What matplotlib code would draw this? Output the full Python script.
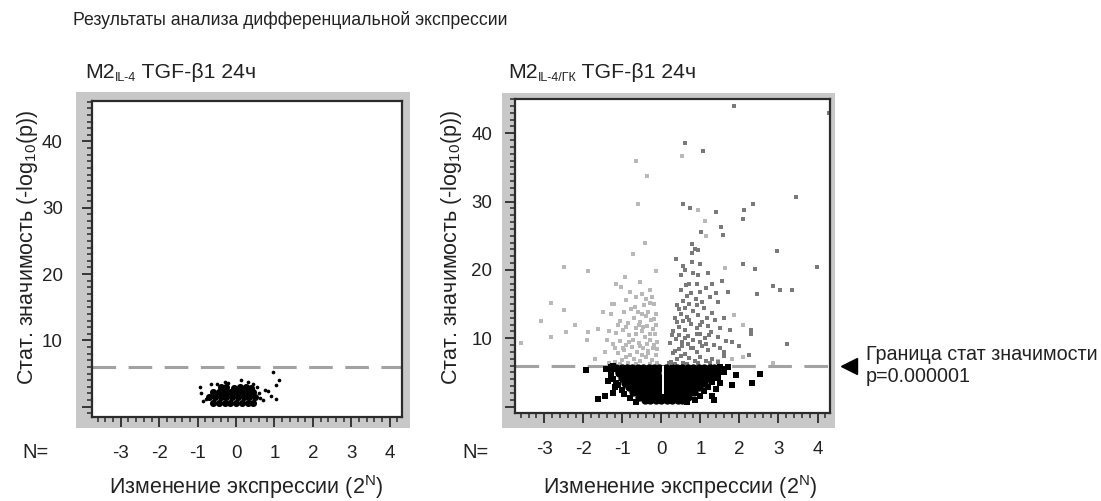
import matplotlib
matplotlib.use("Agg")
import matplotlib.pyplot as plt
from matplotlib.patches import Rectangle
from matplotlib.ticker import MultipleLocator, FixedLocator

plt.rcParams['font.family'] = ['Liberation Sans', 'DejaVu Sans']
plt.rcParams['axes.unicode_minus'] = False
plt.rcParams['mathtext.default'] = 'regular'
plt.rcParams['lines.scale_dashes'] = False

# ---------------- data ----------------
title = "Результаты анализа дифференциальной экспрессии"
xlabel = "Изменение экспрессии (2$^{N}$)"
ylabel = "Стат. значимость (-log$_{10}$(p))"
xticks = [-3, -2, -1, 0, 1, 2, 3, 4]
xticklabels = ["-3", "-2", "-1", "0", "1", "2", "3", "4"]
yticks = [0, 10, 20, 30, 40]
yticklabels = ["", "10", "20", "30", "40"]
threshold = 6.0
note_lines = ["Граница стат значимости", "p=0.000001"]

# Left panel (M2 IL-4): dense core + scattered points (all non-significant)
left_core_x = [-0.6, -0.45, -0.3, -0.15, 0.0, 0.15, 0.3, 0.45,
               -0.7, -0.55, -0.4, -0.25, -0.1, 0.05, 0.2, 0.35, 0.5,
               -0.6, -0.45, -0.3, -0.15, 0.0, 0.15, 0.3, 0.45,
               -0.4, -0.25, -0.05, 0.1, 0.25, 0.4]
left_core_y = [0.6, 0.6, 0.6, 0.6, 0.6, 0.6, 0.6, 0.6,
               1.4, 1.4, 1.4, 1.4, 1.4, 1.4, 1.4, 1.4, 1.4,
               2.2, 2.2, 2.2, 2.2, 2.2, 2.2, 2.2, 2.2,
               2.9, 3.0, 2.8, 3.0, 2.9, 2.8]
left_pts_x = [-0.95, -0.78, -0.85, -0.66, -0.3, 0.14, 0.3, 0.55, 0.6, 0.75,
              0.84, 0.96, 1.12, 1.05, 1.03, 0.7, -0.5, 0.45, -0.9, -0.2, 0.62, 0.9]
left_pts_y = [3.0, 1.2, 0.9, 3.5, 3.8, 4.0, 3.8, 3.0, 2.0, 2.5,
              2.4, 5.3, 4.1, 3.2, 1.2, 1.0, 3.4, 3.5, 2.0, 3.6, 1.3, 1.6]

# Right panel (M2 IL-4/ГК): dense non-significant core, by rows
right_core_x = [-1.16, -1.02, -0.88, -0.74, -0.6, -0.46, -0.32, -0.18, -0.05, 0.12, 0.26, 0.4, 0.54, 0.68, 0.82, 0.96, 1.1, 1.24, 1.36,
                -1.08, -0.94, -0.8, -0.66, -0.52, -0.38, -0.24, -0.1, 0.14, 0.28, 0.42, 0.56, 0.7, 0.84, 0.98, 1.12, 1.26,
                -1.0, -0.86, -0.72, -0.58, -0.44, -0.3, -0.16, -0.03, 0.13, 0.27, 0.41, 0.55, 0.69, 0.83, 0.97, 1.1, 1.2,
                -0.92, -0.78, -0.64, -0.5, -0.36, -0.22, -0.08, 0.14, 0.28, 0.42, 0.56, 0.7, 0.84, 0.98, 1.08,
                -0.84, -0.7, -0.56, -0.42, -0.28, -0.14, 0.0, 0.14, 0.28, 0.42, 0.56, 0.7, 0.84, 0.96,
                -0.72, -0.58, -0.44, -0.3, -0.16, -0.02, 0.12, 0.26, 0.4, 0.54, 0.68, 0.84,
                -0.58, -0.44, -0.3, -0.16, -0.02, 0.12, 0.26, 0.4, 0.54, 0.68,
                -0.42, -0.28, -0.14, 0.0, 0.14, 0.28, 0.42, 0.52]
right_core_y = ([5.6] * 19 + [4.9] * 17 + [4.2] * 17 + [3.5] * 15 +
                [2.8] * 14 + [2.1] * 12 + [1.4] * 10 + [0.9] * 8)
right_black_x = [-1.93, -1.42, -1.38, -1.3, -1.2, -1.16, -1.63, -1.45, 1.9, 1.82,
                 2.33, 2.52, 1.6, 1.3, 1.39, 1.5, 1.45, 1.55, -1.3, 1.7, -1.25, 1.35,
                 -1.3, -1.25, -1.1, -1.0, -0.95, -0.8, -0.65, 1.45, 1.35, 1.3, 1.2,
                 1.1, 1.0, 0.85, 0.65, 1.5, -1.25]
right_black_y = [5.4, 5.5, 3.8, 4.5, 2.8, 3.5, 1.1, 1.5, 4.6, 3.2,
                 3.5, 4.8, 5.0, 1.6, 2.6, 3.5, 4.2, 5.5, 5.8, 5.8, 2.0, 0.9,
                 5.2, 4.0, 3.2, 2.4, 1.8, 1.2, 0.7, 5.0, 4.4, 3.6, 2.9,
                 2.2, 1.6, 1.0, 0.6, 5.8, 5.9]
gap_x = [0.04, 0.04]
gap_y = [2.0, 5.8]

# significant, down-regulated (light grey)
down_x = [-1.2, -1.0, -0.85, -0.7, -0.55, -0.4, -0.25, -0.15,
          -1.1, -0.95, -0.8, -0.62, -0.48, -0.33, -0.2, -0.1,
          -1.25, -1.05, -0.9, -0.72, -0.58, -0.42, -0.28, -0.16,
          -1.15, -0.98, -0.82, -0.66, -0.5, -0.36, -0.22,
          -1.05, -0.86, -0.7, -0.55, -0.4, -0.27,
          -1.3, -0.95, -0.78, -0.6, -0.45, -0.3,
          -1.22, -0.9, -0.66, -0.5, -0.2,
          -1.5, -1.26, -1.62, -1.88, -1.9, -2.21, -2.45, -2.84, -3.6, -3.09,
          -2.5, -2.84, -2.49, -1.89, -0.92, -1.16, -1.03, -0.3, -0.13, -0.73,
          -0.41, -0.6, -0.36, -0.64, 0.52, 1.12, 1.15, 0.93, 1.62, 1.87,
          2.1, 1.8, 2.1, 2.87, -1.7, -1.45, -1.35, 1.45,
          -0.12, -0.3, -0.5, -0.65, -0.9, -1.05, -0.35, -0.22, -0.55, -0.75,
          -0.98, -0.12, -0.36, -0.64, -0.82, -0.3, -0.46, -0.15, -0.58, -0.9,
          -0.2, -0.35, -0.5, -0.68, -0.15, -0.25, -0.4, -1.12, -1.35, -1.2,
          -1.4, -0.8, -0.55]
down_y = [6.5, 6.8, 6.4, 7.0, 6.6, 7.2, 6.8, 7.5,
          7.8, 8.3, 7.6, 8.0, 8.6, 8.1, 9.0, 8.4,
          9.2, 9.6, 9.0, 9.8, 9.3, 10.2, 9.7, 10.6,
          10.8, 11.2, 10.5, 11.5, 11.0, 11.8, 11.3,
          12.5, 12.2, 12.9, 12.4, 13.2, 12.7,
          13.5, 13.9, 14.3, 13.8, 14.8, 15.2,
          15.0, 15.6, 16.0, 16.5, 15.0,
          13.9, 15.0, 11.3, 10.9, 9.7, 12.0, 10.9, 10.1, 9.3, 12.5,
          14.1, 15.2, 20.4, 19.8, 19.0, 17.9, 17.5, 17.0, 19.8, 22.3,
          24.0, 29.6, 33.8, 35.9, 36.6, 27.2, 24.9, 28.7, 20.3, 13.4,
          11.9, 6.9, 7.2, 6.4, 7.0, 8.0, 6.3, 6.6,
          6.3, 6.2, 7.6, 6.2, 7.2, 6.2, 7.9, 8.5, 8.9, 8.7,
          8.6, 9.5, 9.2, 10.6, 9.5, 10.6, 11.6, 11.9, 12.0, 11.7,
          12.8, 13.8, 13.6, 14.6, 13.6, 16.0, 15.8, 12.0, 11.0, 8.5,
          9.8, 16.8, 18.2]

# significant, up-regulated (dark grey)
up_x = [0.25, 0.4, 0.55, 0.7, 0.85, 1.0, 1.15, 1.3, 1.45, 1.6,
        0.3, 0.45, 0.6, 0.75, 0.9, 1.05, 1.2, 1.35, 1.5,
        0.22, 0.38, 0.52, 0.68, 0.82, 0.98, 1.12, 1.28, 1.45,
        0.3, 0.45, 0.6, 0.75, 0.9, 1.05, 1.2, 1.38,
        0.35, 0.5, 0.65, 0.8, 0.95, 1.1, 1.3,
        0.4, 0.55, 0.7, 0.88, 1.05, 1.25, 1.45,
        0.5, 0.62, 0.75, 0.9, 1.3, 1.55, 1.7, 0.5, 0.7, 0.8,
        0.37, 0.79, 0.79, 0.85, 0.94, 0.79, 0.55, 1.0,
        1.85, 4.3, 0.6, 1.07, 0.56, 0.73, 1.39, 2.12, 2.36, 3.44,
        2.08, 1.53, 1.01, 1.57, 2.96, 2.4, 3.98, 2.45, 2.87, 3.04,
        3.34, 2.3, 2.3, 3.22, 2.1,
        0.2, 0.35, 0.5, 0.65, 0.95, 1.25, 0.36, 0.52, 0.68, 0.82,
        1.0, 1.15, 1.6, 1.65, 0.28, 0.45, 0.6, 0.9, 1.22, 0.4,
        0.55, 0.72, 1.0, 1.5, 0.45, 0.6, 0.9, 1.18, 1.6, 0.65,
        1.0, 1.15, 1.4, 0.6, 0.95, 1.2, 1.8, 1.75, 2.0, 2.25]
up_y = [6.5, 6.9, 6.4, 7.1, 6.7, 7.3, 6.6, 7.0, 6.5, 7.4,
        7.8, 8.4, 7.7, 8.6, 8.0, 8.8, 8.2, 9.0, 8.5,
        9.3, 9.9, 9.4, 10.3, 9.7, 10.6, 10.0, 10.9, 10.2,
        11.1, 11.7, 11.2, 12.1, 11.5, 12.4, 11.8, 12.6,
        13.0, 13.6, 13.1, 14.0, 13.4, 14.4, 13.7,
        14.9, 15.5, 15.0, 15.8, 15.3, 16.0, 15.3,
        17.0, 17.8, 16.6, 17.9, 18.0, 18.4, 16.7, 19.2, 18.0, 19.6,
        21.6, 21.2, 22.4, 23.0, 22.9, 23.8, 20.5, 20.8,
        44.0, 43.0, 38.5, 37.4, 29.6, 29.0, 28.5, 28.8, 29.6, 30.6,
        27.5, 26.2, 25.6, 25.1, 22.8, 20.1, 20.4, 16.5, 17.6, 17.1,
        17.0, 10.6, 11.2, 9.2, 20.9,
        6.3, 6.2, 7.4, 6.2, 6.3, 6.3, 8.1, 8.8, 9.1, 8.5,
        9.4, 9.2, 8.0, 9.6, 10.5, 10.4, 10.0, 10.6, 10.4, 12.3,
        12.5, 12.6, 12.0, 11.5, 14.2, 14.4, 14.8, 13.0, 13.0, 16.2,
        16.8, 17.4, 16.6, 20.0, 19.2, 19.5, 9.5, 11.2, 8.8, 7.5]

# ---------------- figure ----------------
W, H = 1101, 501
fig = plt.figure(figsize=(W / 100, H / 100), dpi=100)
fig.patch.set_facecolor('white')


def fx(px):
    return px / W


def fy(py):
    return 1 - py / H


def make_axes(l, t, r, b, gl, gt, gr, gb):
    fig.patches.append(Rectangle((fx(gl), fy(gb)), (gr - gl) / W, (gb - gt) / H,
                                 transform=fig.transFigure, facecolor='#c8c8c8',
                                 edgecolor='none', zorder=-5))
    ax = fig.add_axes([fx(l), fy(b), (r - l) / W, (b - t) / H])
    ax.set_facecolor('white')
    for s in ax.spines.values():
        s.set_color('#2b2b2b')
        s.set_linewidth(1.6)
    return ax


ax1 = make_axes(92, 101, 402, 417, 76, 92, 410, 428)
ax2 = make_axes(515, 99, 830, 413, 502, 93, 835, 428)

TXT = '#222222'
FS_TICK = 13.5
FS_LAB = 15.5


def style(ax, ylim, ypad):
    ax.set_xlim(-3.75, 4.32)
    ax.set_ylim(*ylim)
    ax.xaxis.set_major_locator(FixedLocator(xticks))
    ax.set_xticklabels(xticklabels)
    ax.xaxis.set_minor_locator(MultipleLocator(0.2))
    ax.yaxis.set_major_locator(FixedLocator(yticks))
    ax.set_yticklabels(yticklabels)
    ax.yaxis.set_minor_locator(MultipleLocator(1))
    ax.tick_params(which='both', direction='out', color='#2b2b2b', top=False, right=False)
    ax.tick_params(which='major', length=7, width=1.3, labelsize=FS_TICK, labelcolor=TXT)
    ax.tick_params(which='minor', length=3.5, width=1.1)
    ax.tick_params(axis='x', which='major', pad=13)
    ax.tick_params(axis='y', which='major', pad=ypad)
    ax.axhline(threshold, color='#a2a2a2', lw=2.2, dashes=(17, 9), zorder=1)


style(ax1, (-1.55, 46.1), 14)
style(ax2, (-0.95, 45.0), 9.5)

# left panel points
ax1.scatter(left_core_x, left_core_y, s=26, c='black', linewidths=0, zorder=3)
ax1.scatter(left_pts_x, left_pts_y, s=7, c='black', linewidths=0, zorder=3)

# right panel points
ax2.scatter(down_x, down_y, s=12, c='#b8b8b8', marker='s', linewidths=0, zorder=2)
ax2.scatter(up_x, up_y, s=12, c='#7a7a7a', marker='s', linewidths=0, zorder=2)
ax2.scatter(right_core_x, right_core_y, s=36, c='black', linewidths=0, zorder=3)
ax2.scatter(right_black_x, right_black_y, s=13, c='black', marker='s', linewidths=0, zorder=3)
ax2.plot(gap_x, gap_y, color='white', lw=1.4, zorder=4)

# threshold annotation
ax2.plot([(848.7 - 515) / 315], [threshold], marker='<', ms=11, color='black',
         transform=ax2.get_yaxis_transform(), clip_on=False)
fig.text(fx(866), fy(354), note_lines[0], fontsize=14.2, color=TXT, ha='left', va='center')
fig.text(fx(866), fy(377), note_lines[1], fontsize=14.2, color=TXT, ha='left', va='center')

# titles & labels
fig.text(fx(73), fy(20), title, fontsize=12.7, color=TXT, ha='left', va='center')

renderer = fig.canvas.get_renderer()


def rich(x_px, base_px, pieces):
    x = x_px
    for txt, size, dy in pieces:
        t = fig.text(fx(x), fy(base_px + dy), txt, fontsize=size, color=TXT,
                     ha='left', va='baseline')
        bb = t.get_window_extent(renderer)
        x += bb.width


rich(85, 78, [("M2", 15.3, 0), ("IL-4", 9, 3), (" TGF-β1 24ч", 15.3, 0)])
rich(508, 78, [("M2", 15.3, 0), ("IL-4/ГК", 9, 3), (" TGF-β1 24ч", 15.3, 0)])

for cx in (246, 680):
    fig.text(fx(cx), fy(487), xlabel, fontsize=FS_LAB, color=TXT, ha='center', va='center')
fig.text(fx(36), fy(452), "N=", fontsize=14.5, color=TXT, ha='center', va='center')
fig.text(fx(476), fy(452), "N=", fontsize=14.5, color=TXT, ha='center', va='center')
fig.text(fx(28), fy(247), ylabel, fontsize=FS_LAB, color=TXT, ha='center', va='center', rotation=90)
fig.text(fx(452), fy(247), ylabel, fontsize=FS_LAB, color=TXT, ha='center', va='center', rotation=90)

fig.savefig('out.png', dpi=100, facecolor='white')
